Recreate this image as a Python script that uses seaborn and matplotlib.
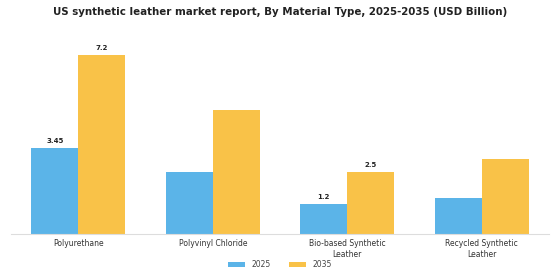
import matplotlib
matplotlib.use("Agg")
import matplotlib.pyplot as plt
import seaborn as sns
import pandas as pd

categories = ["Polyurethane", "Polyvinyl Chloride", "Bio-based Synthetic\nLeather", "Recycled Synthetic\nLeather"]
years = ["2025", "2035"]
values_2025 = [3.45, 2.48, 1.2, 1.46]
values_2035 = [7.2, 5.0, 2.5, 3.0]
labels_2025 = ["3.45", "", "1.2", ""]
labels_2035 = ["7.2", "", "2.5", ""]
colors = ["#5BB4E8", "#F9C248"]

df = pd.DataFrame({
    "Material": categories * 2,
    "Year": [years[0]] * 4 + [years[1]] * 4,
    "Value": values_2025 + values_2035,
})

sns.set_theme(style="white")
plt.rcParams["font.family"] = ["DejaVu Sans"]

fig = plt.figure(figsize=(5.6, 2.8), dpi=100)
ax = fig.add_axes([0.02, 0.165, 0.96, 0.71])
sns.barplot(data=df, x="Material", y="Value", hue="Year", palette=colors,
            width=0.7, ax=ax, saturation=1, legend=True, linewidth=0)

for cont, labs in zip(ax.containers, [labels_2025, labels_2035]):
    ax.bar_label(cont, labels=labs, padding=3, fontsize=5, fontweight="bold", color="#222222")

ax.set_ylim(0, 8)
ax.set_xlim(-0.5, 3.5)
ax.set_xlabel("")
ax.set_ylabel("")
ax.set_yticks([])
for s in ["top", "right", "left"]:
    ax.spines[s].set_visible(False)
ax.spines["bottom"].set_color("#DDDDDD")
ax.spines["bottom"].set_linewidth(0.8)
ax.tick_params(axis="x", labelsize=5.5, colors="#333333", pad=2, length=2, color="#999999")

fig.suptitle("US synthetic leather market report, By Material Type, 2025-2035 (USD Billion)",
             fontsize=7.4, fontweight="bold", y=0.975, color="#222222")

leg = ax.legend(loc="center", bbox_to_anchor=(0.5, -0.155), ncol=2, frameon=False,
                fontsize=5.5, handlelength=2.2, handleheight=0.6, columnspacing=2.5)
for t in leg.get_texts():
    t.set_color("#444444")

fig.savefig("out.png", dpi=100)
